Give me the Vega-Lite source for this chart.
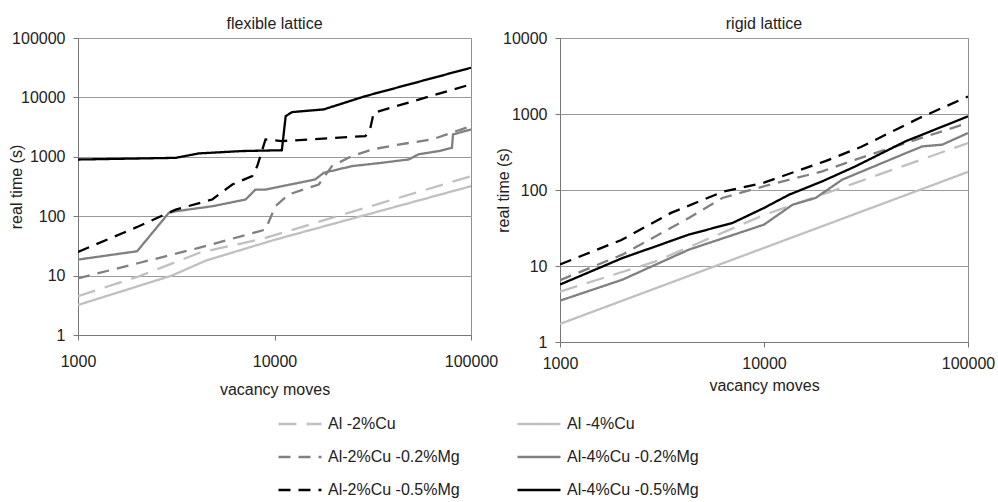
{
 "$schema": "https://vega.github.io/schema/vega-lite/v6.json",
 "background": "white",
 "padding": {"left": 7, "top": 15, "right": 5, "bottom": 5},
 "datasets": {
  "pts": [
   {"lattice":"flexible","series":"Al -2%Cu","moves":1000,"time":4.5},
   {"lattice":"flexible","series":"Al -2%Cu","moves":2040,"time":9.7},
   {"lattice":"flexible","series":"Al -2%Cu","moves":4120,"time":24},
   {"lattice":"flexible","series":"Al -2%Cu","moves":9000,"time":43},
   {"lattice":"flexible","series":"Al -2%Cu","moves":19600,"time":94},
   {"lattice":"flexible","series":"Al -2%Cu","moves":100000,"time":472},
   {"lattice":"flexible","series":"Al -4%Cu","moves":1000,"time":3.2},
   {"lattice":"flexible","series":"Al -4%Cu","moves":3000,"time":10},
   {"lattice":"flexible","series":"Al -4%Cu","moves":4500,"time":18},
   {"lattice":"flexible","series":"Al -4%Cu","moves":10000,"time":40},
   {"lattice":"flexible","series":"Al -4%Cu","moves":100000,"time":320},
   {"lattice":"flexible","series":"Al-2%Cu -0.2%Mg","moves":1000,"time":9},
   {"lattice":"flexible","series":"Al-2%Cu -0.2%Mg","moves":2040,"time":16.3},
   {"lattice":"flexible","series":"Al-2%Cu -0.2%Mg","moves":4120,"time":29.3},
   {"lattice":"flexible","series":"Al-2%Cu -0.2%Mg","moves":9000,"time":59.6},
   {"lattice":"flexible","series":"Al-2%Cu -0.2%Mg","moves":10100,"time":147},
   {"lattice":"flexible","series":"Al-2%Cu -0.2%Mg","moves":11800,"time":232},
   {"lattice":"flexible","series":"Al-2%Cu -0.2%Mg","moves":16800,"time":342},
   {"lattice":"flexible","series":"Al-2%Cu -0.2%Mg","moves":19600,"time":697},
   {"lattice":"flexible","series":"Al-2%Cu -0.2%Mg","moves":24800,"time":1030},
   {"lattice":"flexible","series":"Al-2%Cu -0.2%Mg","moves":31400,"time":1330},
   {"lattice":"flexible","series":"Al-2%Cu -0.2%Mg","moves":42900,"time":1610},
   {"lattice":"flexible","series":"Al-2%Cu -0.2%Mg","moves":63400,"time":1960},
   {"lattice":"flexible","series":"Al-2%Cu -0.2%Mg","moves":100000,"time":3290},
   {"lattice":"flexible","series":"Al-4%Cu -0.2%Mg","moves":1000,"time":18.6},
   {"lattice":"flexible","series":"Al-4%Cu -0.2%Mg","moves":2000,"time":25.7},
   {"lattice":"flexible","series":"Al-4%Cu -0.2%Mg","moves":2900,"time":114},
   {"lattice":"flexible","series":"Al-4%Cu -0.2%Mg","moves":3140,"time":121},
   {"lattice":"flexible","series":"Al-4%Cu -0.2%Mg","moves":4820,"time":147},
   {"lattice":"flexible","series":"Al-4%Cu -0.2%Mg","moves":7130,"time":191},
   {"lattice":"flexible","series":"Al-4%Cu -0.2%Mg","moves":8000,"time":281},
   {"lattice":"flexible","series":"Al-4%Cu -0.2%Mg","moves":9000,"time":281},
   {"lattice":"flexible","series":"Al-4%Cu -0.2%Mg","moves":16100,"time":415},
   {"lattice":"flexible","series":"Al-4%Cu -0.2%Mg","moves":17800,"time":537},
   {"lattice":"flexible","series":"Al-4%Cu -0.2%Mg","moves":24800,"time":697},
   {"lattice":"flexible","series":"Al-4%Cu -0.2%Mg","moves":35300,"time":794},
   {"lattice":"flexible","series":"Al-4%Cu -0.2%Mg","moves":48200,"time":902},
   {"lattice":"flexible","series":"Al-4%Cu -0.2%Mg","moves":54000,"time":1100},
   {"lattice":"flexible","series":"Al-4%Cu -0.2%Mg","moves":68600,"time":1250},
   {"lattice":"flexible","series":"Al-4%Cu -0.2%Mg","moves":80000,"time":1420},
   {"lattice":"flexible","series":"Al-4%Cu -0.2%Mg","moves":81000,"time":2380},
   {"lattice":"flexible","series":"Al-4%Cu -0.2%Mg","moves":100000,"time":2890},
   {"lattice":"flexible","series":"Al-2%Cu -0.5%Mg","moves":1000,"time":25},
   {"lattice":"flexible","series":"Al-2%Cu -0.5%Mg","moves":2040,"time":67.8},
   {"lattice":"flexible","series":"Al-2%Cu -0.5%Mg","moves":3140,"time":129},
   {"lattice":"flexible","series":"Al-2%Cu -0.5%Mg","moves":4820,"time":191},
   {"lattice":"flexible","series":"Al-2%Cu -0.5%Mg","moves":6100,"time":342},
   {"lattice":"flexible","series":"Al-2%Cu -0.5%Mg","moves":7700,"time":472},
   {"lattice":"flexible","series":"Al-2%Cu -0.5%Mg","moves":8170,"time":697},
   {"lattice":"flexible","series":"Al-2%Cu -0.5%Mg","moves":9000,"time":1960},
   {"lattice":"flexible","series":"Al-2%Cu -0.5%Mg","moves":10900,"time":1840},
   {"lattice":"flexible","series":"Al-2%Cu -0.5%Mg","moves":29000,"time":2230},
   {"lattice":"flexible","series":"Al-2%Cu -0.5%Mg","moves":30500,"time":2700},
   {"lattice":"flexible","series":"Al-2%Cu -0.5%Mg","moves":32000,"time":5520},
   {"lattice":"flexible","series":"Al-2%Cu -0.5%Mg","moves":100000,"time":16600},
   {"lattice":"flexible","series":"Al-4%Cu -0.5%Mg","moves":1000,"time":900},
   {"lattice":"flexible","series":"Al-4%Cu -0.5%Mg","moves":3140,"time":960},
   {"lattice":"flexible","series":"Al-4%Cu -0.5%Mg","moves":4120,"time":1140},
   {"lattice":"flexible","series":"Al-4%Cu -0.5%Mg","moves":6850,"time":1250},
   {"lattice":"flexible","series":"Al-4%Cu -0.5%Mg","moves":10900,"time":1290},
   {"lattice":"flexible","series":"Al-4%Cu -0.5%Mg","moves":11400,"time":4840},
   {"lattice":"flexible","series":"Al-4%Cu -0.5%Mg","moves":12300,"time":5660},
   {"lattice":"flexible","series":"Al-4%Cu -0.5%Mg","moves":17800,"time":6280},
   {"lattice":"flexible","series":"Al-4%Cu -0.5%Mg","moves":29000,"time":10500},
   {"lattice":"flexible","series":"Al-4%Cu -0.5%Mg","moves":100000,"time":31600},
   {"lattice":"rigid","series":"Al -2%Cu","moves":1000,"time":4.6},
   {"lattice":"rigid","series":"Al -2%Cu","moves":2940,"time":11.5},
   {"lattice":"rigid","series":"Al -2%Cu","moves":10000,"time":47},
   {"lattice":"rigid","series":"Al -2%Cu","moves":28100,"time":124},
   {"lattice":"rigid","series":"Al -2%Cu","moves":100000,"time":415},
   {"lattice":"rigid","series":"Al -4%Cu","moves":1000,"time":1.73},
   {"lattice":"rigid","series":"Al -4%Cu","moves":10000,"time":17.3},
   {"lattice":"rigid","series":"Al -4%Cu","moves":100000,"time":173},
   {"lattice":"rigid","series":"Al-2%Cu -0.2%Mg","moves":1000,"time":6.5},
   {"lattice":"rigid","series":"Al-2%Cu -0.2%Mg","moves":2020,"time":14.1},
   {"lattice":"rigid","series":"Al-2%Cu -0.2%Mg","moves":4280,"time":42.8},
   {"lattice":"rigid","series":"Al-2%Cu -0.2%Mg","moves":6250,"time":78.5},
   {"lattice":"rigid","series":"Al-2%Cu -0.2%Mg","moves":10000,"time":112},
   {"lattice":"rigid","series":"Al-2%Cu -0.2%Mg","moves":19300,"time":176},
   {"lattice":"rigid","series":"Al-2%Cu -0.2%Mg","moves":28100,"time":251},
   {"lattice":"rigid","series":"Al-2%Cu -0.2%Mg","moves":49400,"time":415},
   {"lattice":"rigid","series":"Al-2%Cu -0.2%Mg","moves":100000,"time":762},
   {"lattice":"rigid","series":"Al-4%Cu -0.2%Mg","moves":1000,"time":3.5},
   {"lattice":"rigid","series":"Al-4%Cu -0.2%Mg","moves":2020,"time":6.6},
   {"lattice":"rigid","series":"Al-4%Cu -0.2%Mg","moves":4280,"time":16.4},
   {"lattice":"rigid","series":"Al-4%Cu -0.2%Mg","moves":10000,"time":35},
   {"lattice":"rigid","series":"Al-4%Cu -0.2%Mg","moves":13800,"time":64},
   {"lattice":"rigid","series":"Al-4%Cu -0.2%Mg","moves":17900,"time":78.5},
   {"lattice":"rigid","series":"Al-4%Cu -0.2%Mg","moves":24200,"time":137},
   {"lattice":"rigid","series":"Al-4%Cu -0.2%Mg","moves":47600,"time":292},
   {"lattice":"rigid","series":"Al-4%Cu -0.2%Mg","moves":59700,"time":375},
   {"lattice":"rigid","series":"Al-4%Cu -0.2%Mg","moves":74800,"time":395},
   {"lattice":"rigid","series":"Al-4%Cu -0.2%Mg","moves":100000,"time":562},
   {"lattice":"rigid","series":"Al-2%Cu -0.5%Mg","moves":1000,"time":10.5},
   {"lattice":"rigid","series":"Al-2%Cu -0.5%Mg","moves":2000,"time":22},
   {"lattice":"rigid","series":"Al-2%Cu -0.5%Mg","moves":3500,"time":50},
   {"lattice":"rigid","series":"Al-2%Cu -0.5%Mg","moves":6300,"time":95},
   {"lattice":"rigid","series":"Al-2%Cu -0.5%Mg","moves":10000,"time":125},
   {"lattice":"rigid","series":"Al-2%Cu -0.5%Mg","moves":20000,"time":240},
   {"lattice":"rigid","series":"Al-2%Cu -0.5%Mg","moves":30000,"time":370},
   {"lattice":"rigid","series":"Al-2%Cu -0.5%Mg","moves":57500,"time":880},
   {"lattice":"rigid","series":"Al-2%Cu -0.5%Mg","moves":100000,"time":1700},
   {"lattice":"rigid","series":"Al-4%Cu -0.5%Mg","moves":1000,"time":5.7},
   {"lattice":"rigid","series":"Al-4%Cu -0.5%Mg","moves":2020,"time":12.7},
   {"lattice":"rigid","series":"Al-4%Cu -0.5%Mg","moves":2940,"time":18.1},
   {"lattice":"rigid","series":"Al-4%Cu -0.5%Mg","moves":4280,"time":25.9},
   {"lattice":"rigid","series":"Al-4%Cu -0.5%Mg","moves":7000,"time":36.8},
   {"lattice":"rigid","series":"Al-4%Cu -0.5%Mg","moves":10000,"time":58},
   {"lattice":"rigid","series":"Al-4%Cu -0.5%Mg","moves":13300,"time":87},
   {"lattice":"rigid","series":"Al-4%Cu -0.5%Mg","moves":19300,"time":130},
   {"lattice":"rigid","series":"Al-4%Cu -0.5%Mg","moves":28100,"time":205},
   {"lattice":"rigid","series":"Al-4%Cu -0.5%Mg","moves":49400,"time":437},
   {"lattice":"rigid","series":"Al-4%Cu -0.5%Mg","moves":100000,"time":931}
  ]
 },
 "data": {"name": "pts"},
 "spacing": 89,
 "bounds": "flush",
 "hconcat": [
  {
   "title": {"text": "flexible lattice"},
   "width": 393,
   "height": 297,
   "transform": [{"filter": "datum.lattice == 'flexible'"}],
   "mark": {"type": "line", "clip": true, "strokeWidth": 2.3},
   "encoding": {
    "x": {"field": "moves", "type": "quantitative", "scale": {"type": "log", "domain": [1000, 100000]},
          "axis": {"title": "vacancy moves", "values": [1000, 10000, 100000], "format": "d", "labelPadding": 13, "titlePadding": 12, "labelFlush": false}},
    "y": {"field": "time", "type": "quantitative", "scale": {"type": "log", "domain": [1, 100000]},
          "axis": {"title": "real time (s)", "values": [1, 10, 100, 1000, 10000, 100000], "format": "d", "labelPadding": 8, "titleX": -54}},
    "color": {"field": "series", "type": "nominal", "title": null,
              "scale": {"domain": ["Al -2%Cu", "Al-2%Cu -0.2%Mg", "Al-2%Cu -0.5%Mg", "Al -4%Cu", "Al-4%Cu -0.2%Mg", "Al-4%Cu -0.5%Mg"],
                        "range": ["#c0c0c0", "#808080", "#000000", "#c0c0c0", "#808080", "#000000"]}},
    "strokeDash": {"field": "series", "type": "nominal", "title": null,
              "scale": {"domain": ["Al -2%Cu", "Al-2%Cu -0.2%Mg", "Al-2%Cu -0.5%Mg", "Al -4%Cu", "Al-4%Cu -0.2%Mg", "Al-4%Cu -0.5%Mg"],
                        "range": [[18, 10], [12, 8], [12, 8], [1, 0], [1, 0], [1, 0]]}}
   }
  },
  {
   "title": {"text": "rigid lattice"},
   "width": 408,
   "height": 304,
   "transform": [{"filter": "datum.lattice == 'rigid'"}],
   "mark": {"type": "line", "clip": true, "strokeWidth": 2.3},
   "encoding": {
    "x": {"field": "moves", "type": "quantitative", "scale": {"type": "log", "domain": [1000, 100000]},
          "axis": {"title": "vacancy moves", "values": [1000, 10000, 100000], "format": "d", "labelPadding": 8, "titlePadding": 6, "labelFlush": false}},
    "y": {"field": "time", "type": "quantitative", "scale": {"type": "log", "domain": [1, 10000]},
          "axis": {"title": "real time (s)", "values": [1, 10, 100, 1000, 10000], "format": "d", "labelPadding": 8, "titleX": -49}},
    "color": {"field": "series", "type": "nominal", "title": null},
    "strokeDash": {"field": "series", "type": "nominal", "title": null}
   }
  }
 ],
 "resolve": {"scale": {"x": "independent", "y": "independent", "color": "shared", "strokeDash": "shared"},
             "legend": {"color": "shared", "strokeDash": "shared"}},
 "config": {
  "font": "Liberation Sans",
  "view": {"stroke": "#909090", "strokeWidth": 1},
  "title": {"fontSize": 16, "fontWeight": "normal", "font": "Liberation Sans", "color": "#222", "offset": -2},
  "axis": {"labelFont": "Liberation Sans", "titleFont": "Liberation Sans", "labelFontSize": 16, "titleFontSize": 16, "titleFontWeight": "normal",
           "labelColor": "#222", "titleColor": "#222", "domainColor": "#777", "tickColor": "#777", "gridColor": "#9a9a9a", "tickSize": 5},
  "axisX": {"grid": false},
  "axisY": {"grid": true},
  "legend": {"orient": "none", "legendX": 199, "legendY": 363, "columns": 2, "symbolType": "stroke", "symbolSize": 1850,
             "symbolStrokeWidth": 2.5, "labelFont": "Liberation Sans", "labelFontSize": 16, "labelColor": "#222", "labelOffset": 5,
             "columnPadding": 52, "rowPadding": 2, "labelLimit": 250}
 }
}
